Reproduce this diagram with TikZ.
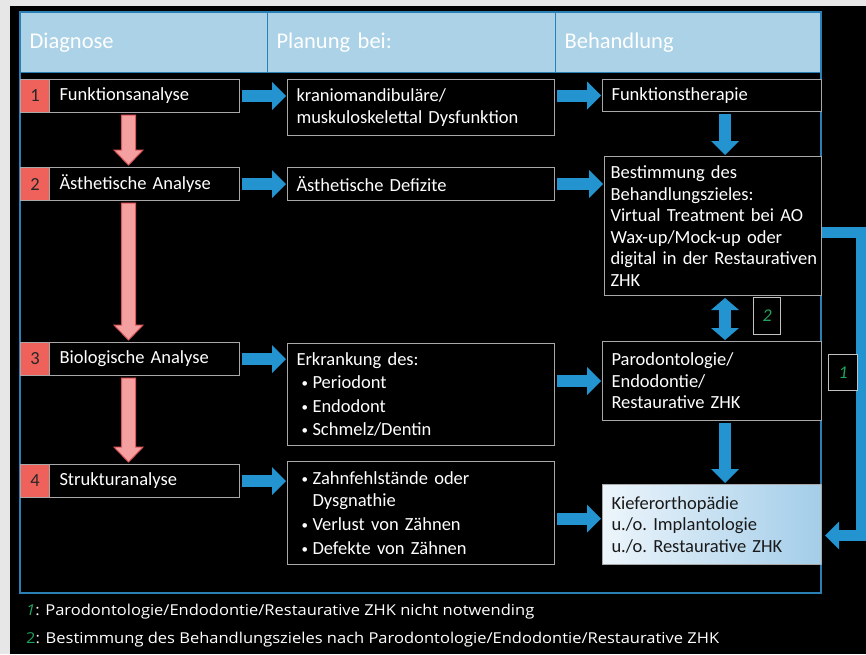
\documentclass[tikz,border=0pt]{standalone}
\usepackage{fontspec}
\setmainfont{Carlito}
\newfontfamily\notefont[FakeStretch=1.1]{Open Sans}
\usepackage{tikz}
\usetikzlibrary{positioning,arrows.meta,calc}
\usepackage{xcolor}
\definecolor{pagegray}{HTML}{E7E7E7}
\definecolor{frameblue}{HTML}{2A80B4}
\definecolor{headblue}{HTML}{ABD2E6}
\definecolor{boxgray}{HTML}{A8A8A8}
\definecolor{numred}{HTML}{EF625C}
\definecolor{arrowred}{HTML}{E0575A}
\definecolor{arrowpink}{HTML}{F4A0A0}
\definecolor{arrowblue}{HTML}{2394D0}
\definecolor{notegreen}{HTML}{1FA35E}
\definecolor{kieflight}{HTML}{EDF5FB}
\definecolor{kiefblue}{HTML}{A3CDE9}

\begin{document}
\begin{tikzpicture}[x=1pt, y=-1pt,
  bodyfont/.style={font=\fontsize{18.5}{21.5}\selectfont\frenchspacing},
  cell/.style={bodyfont, draw=boxgray, line width=1pt, fill=black, text=white,
    anchor=north west, align=left, inner xsep=9pt, inner ysep=2pt},
  numcell/.style={cell, fill=numred, text=black!85, align=center,
    inner xsep=0pt, minimum width=29pt, minimum height=33pt},
  diagcell/.style={cell, inner xsep=10pt, text width=170pt, minimum height=33pt},
  plancell/.style={cell, text width=249pt},
  behcell/.style={cell, text width=201pt},
  headcell/.style={draw=frameblue, line width=1.2pt, fill=headblue, text=white,
    anchor=north west, align=left, inner xsep=9pt, minimum height=60pt,
    font=\fontsize{22.5}{26}\selectfont},
  labcell/.style={draw=boxgray!70!white, line width=1.2pt, fill=black, text=notegreen,
    anchor=north west, inner sep=0pt, font=\fontsize{18}{20}\selectfont\itshape},
  bluearr/.style={draw=arrowblue, line width=12pt, shorten <=2pt, shorten >=1pt,
    -{Triangle[length=14pt, width=28pt, line width=0pt]}},
  blueboth/.style={bluearr, {Triangle[length=12pt, width=28pt, line width=0pt]}-{Triangle[length=12pt, width=28pt, line width=0pt]}},
  redarr/.style={fill=arrowpink, draw=arrowred, line width=1pt, line join=miter},
  note/.style={anchor=west, inner sep=0pt, text=white,
    font=\notefont\fontsize{15}{17}\selectfont}
]
  \def\bul{\hspace*{5pt}\makebox[11pt][l]{\raisebox{1pt}{\scalebox{0.7}{•}}}}
  \def\ind{\hspace*{16pt}}

  \useasboundingbox (0,0) rectangle (866,654);
  \fill[pagegray] (0,0) rectangle (866,654);
  \fill[black] (10,6) rectangle (866,654);

  % Kopfzeile
  \node[headcell, minimum width=247pt, text width=229pt] (hdiag) at (20,12) {Diagnose};
  \node[headcell, minimum width=288pt, text width=270pt] (hplan) at (267,12) {Planung bei:};
  \node[headcell, minimum width=266pt, text width=248pt] (hbeh) at (555,12) {Behandlung};
  \draw[frameblue, line width=1.5pt] (hdiag.north west) rectangle (821,593);

  % Diagnose
  \foreach \i/\y/\t in {1/79/Funktionsanalyse, 2/167/Ästhetische Analyse,
                        3/342/Biologische Analyse, 4/464/Strukturanalyse} {
    \node[numcell] (n\i) at (20,\y) {\i};
    \node[diagcell] (d\i) at (49,\y) {\t};
  }

  % Planung
  \node[plancell, minimum height=56pt] (p1) at (287,79)
    {kraniomandibuläre/\\muskuloskelettal Dysfunktion};
  \node[plancell, minimum height=33pt] (p2) at (287,167) {Ästhetische Defizite};
  \node[plancell, minimum height=102pt] (p3) at (287,343)
    {Erkrankung des:\\[2pt]\bul Periodont\\[2pt]\bul Endodont\\[2pt]\bul Schmelz/Dentin};
  \node[plancell, minimum height=103pt] (p4) at (287,461)
    {\bul Zahnfehlstände oder\\\ind Dysgnathie\\[3pt]\bul Verlust von Zähnen\\[2pt]\bul Defekte von Zähnen};

  % Behandlung
  \node[behcell, minimum height=32pt] (b1) at (602,79) {Funktionstherapie};
  \node[behcell, inner xsep=6pt, text width=205pt, minimum height=139pt] (b2) at (604,156)
    {Bestimmung des\\Behandlungszieles:\\Virtual Treatment bei AO\\Wax-up/Mock-up oder\\\mbox{digital in der Restaurativen}\\ZHK};
  \node[behcell, minimum height=79pt] (b3) at (602,341)
    {Parodontologie/\\Endodontie/\\Restaurative ZHK};
  \node[behcell, text=black!90, left color=kieflight, right color=kiefblue,
        minimum height=80pt] (b4) at (602,484)
    {Kieferorthopädie\\u./o. Implantologie\\u./o. Restaurative ZHK};

  % rote Pfeile
  \foreach \a/\b in {d1/d2, d2/d3, d3/d4} {
    \coordinate (rs) at ([xshift=-16pt,yshift=-2pt]\a.south);
    \coordinate (re) at ([xshift=-16pt,yshift=2pt]\b.north);
    \filldraw[redarr] ($(rs)+(-7,0)$) -- ($(rs)+(7,0)$) -- ($(re)+(7,-15)$)
      -- ($(re)+(14.5,-15)$) -- (re) -- ($(re)+(-14.5,-15)$) -- ($(re)+(-7,-15)$) -- cycle;
  }

  % blaue Pfeile
  \foreach \a/\b in {d1/p1, d2/p2, d3/p3, d4/p4}
    \draw[bluearr] (\a.east) -- (\a.east -| \b.west);
  \draw[bluearr] (p1.east |- b1.west) -- (b1.west);
  \draw[bluearr] (p2.east) -- (p2.east -| b2.west);
  \draw[bluearr] (p3.east |- b3.west) -- (b3.west);
  \coordinate (k4) at ([yshift=6pt]b4.west);
  \draw[bluearr] (p4.east |- k4) -- (k4);

  \coordinate (bx) at (725,0);
  \draw[bluearr] (b1.south -| bx) -- (b2.north -| bx);
  \draw[blueboth] (b2.south -| bx) -- (b3.north -| bx);
  \draw[bluearr] (b3.south -| bx) -- (b4.north -| bx);

  \coordinate (rx) at (861,400);
  \draw[bluearr, line width=11pt, shorten <=0pt, shorten >=3pt]
    ([yshift=-6pt]b2.east) -| (rx) |- ([yshift=-11pt]b4.east);

  \node[labcell, minimum width=27pt, minimum height=37pt] (lab2) at (753,297) {2};
  \node[labcell, minimum width=29pt, minimum height=36pt] (lab1) at (828,354) {1};

  % Fussnoten
  \node[note] (fn1) at (26,612)
    {{\color{notegreen}\itshape 1}: Parodontologie/Endodontie/Restaurative ZHK nicht notwending};
  \node[note] (fn2) at (26,640)
    {{\color{notegreen}2}: Bestimmung des Behandlungszieles nach Parodontologie/Endodontie/Restaurative ZHK};
\end{tikzpicture}
\end{document}
